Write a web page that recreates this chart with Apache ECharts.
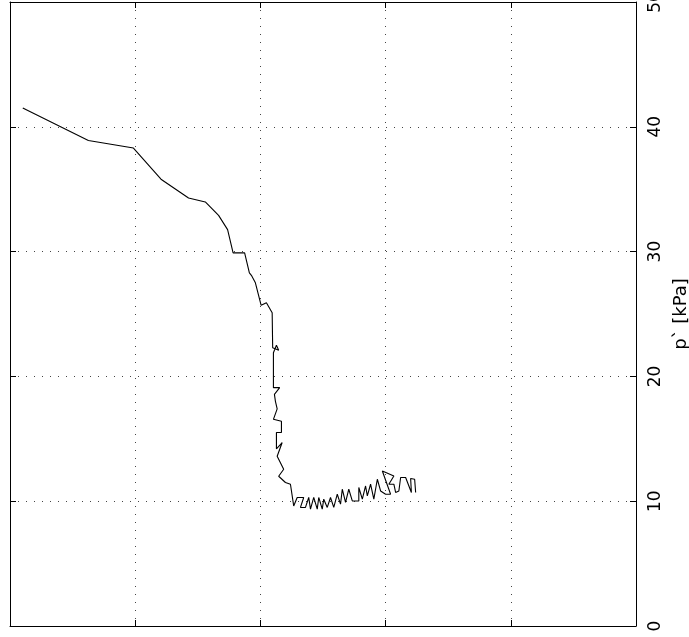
<!DOCTYPE html>
<html lang="en">
<head>
    <meta charset="UTF-8">
    <title>p' path</title>
    <script src="https://cdn.jsdelivr.net/npm/echarts@6/dist/echarts.min.js"></script>
    <style>
        html, body { margin: 0; padding: 0; background: #fff; }
    </style>
</head>
<body>
<div id="main" style="width: 689px;height:637px;"></div>
<script type="text/javascript">
    // horizontal position of the path (unlabelled axis)
    var xs = [1.02, 6.26, 9.86, 12.06, 14.26, 15.6, 16.66, 17.38, 17.82, 18.74,
        19.12, 19.28, 19.6, 20.06, 20.48, 20.94, 20.98, 21.46, 21.28, 21.04,
        21.04, 21.54, 21.12, 21.2, 21.34, 21.04, 21.68, 21.68, 21.28, 21.28,
        21.74, 21.34, 21.86, 21.46, 22.0, 22.4, 22.66,
        22.94, 23.46, 23.2, 23.6, 23.86, 24.0, 24.26, 24.54, 24.66, 24.94,
        25.06, 25.34, 25.6, 25.86, 26.14, 26.4, 26.54, 26.8, 27.06, 27.34,
        27.86, 27.86, 28.14, 28.4, 28.54, 28.8, 29.06, 29.34, 29.6, 30.0,
        30.4, 29.74, 30.66, 30.26, 30.66, 30.8, 31.06, 31.2, 31.6, 32.06,
        32.0, 32.32, 32.4];
    // p` [kPa]
    var ps = [41.5, 38.9, 38.3, 35.8, 34.3, 33.98, 32.9, 31.76, 29.9, 29.9,
        28.3, 28.1, 27.5, 25.7, 25.9, 25.1, 22.3, 22.1, 22.5, 21.9,
        19.1, 19.1, 18.56, 18.0, 17.4, 16.56, 16.4, 15.5, 15.5, 14.2,
        14.7, 13.6, 12.56, 12.0, 11.5, 11.36, 9.62,
        10.3, 10.3, 9.5, 9.5, 10.3, 9.36, 10.3, 9.36, 10.3, 9.36,
        10.16, 9.5, 10.3, 9.5, 10.56, 9.76, 10.96, 9.9, 10.96, 10.02,
        10.02, 11.1, 10.16, 11.22, 10.43, 11.36, 10.16, 11.76, 10.82, 10.56,
        10.56, 12.42, 12.02, 11.36, 11.36, 10.7, 10.82, 11.9, 11.9, 10.7,
        11.82, 11.76, 10.7];
    var pTicks = [0, 10, 20, 30, 40, 50];

    var path = [];
    for (var i = 0; i < xs.length; i++) {
        path.push([xs[i], ps[i]]);
    }

    var myChart = echarts.init(document.getElementById('main'));

    var dotted = {show: true, lineStyle: {color: '#444', type: [1, 7], width: 1}};
    var frame = {show: true, onZero: false, lineStyle: {color: '#000', width: 1}};
    var ticks = {show: true, inside: true, length: 6, lineStyle: {color: '#000'}};

    myChart.setOption({
        animation: false,
        grid: {left: 10, right: 53, top: 2, bottom: 11, containLabel: false, outerBoundsMode: 'none'},
        xAxis: [
            {   // bottom
                type: 'value', position: 'bottom', min: 0, max: 50, interval: 10,
                axisLine: frame, axisTick: ticks, axisLabel: {show: false},
                splitLine: dotted
            },
            {   // top
                type: 'value', position: 'top', min: 0, max: 50, interval: 10,
                axisLine: frame, axisTick: ticks, axisLabel: {show: false},
                splitLine: {show: false}
            }
        ],
        yAxis: [
            {   // right, labelled
                type: 'value', position: 'right', min: 0, max: 50, interval: 10,
                name: 'p` [kPa]', nameLocation: 'middle', nameRotate: 90, nameGap: 34,
                nameTextStyle: {fontFamily: 'DejaVu Sans', fontSize: 18, color: '#000'},
                axisLine: frame, axisTick: ticks,
                axisLabel: {
                    rotate: 90, margin: 11, fontFamily: 'DejaVu Sans', fontSize: 17, color: '#000',
                    showMinLabel: true, showMaxLabel: true, hideOverlap: false
                },
                splitLine: dotted
            },
            {   // left frame
                type: 'value', position: 'left', min: 0, max: 50, interval: 10,
                axisLine: frame, axisTick: ticks, axisLabel: {show: false},
                splitLine: {show: false}
            }
        ],
        series: [
            {
                type: 'line',
                data: path,
                xAxisIndex: 0,
                yAxisIndex: 0,
                symbol: 'none',
                lineStyle: {color: '#000', width: 1.1}
            }
        ]
    });
</script>
</body>
</html>
